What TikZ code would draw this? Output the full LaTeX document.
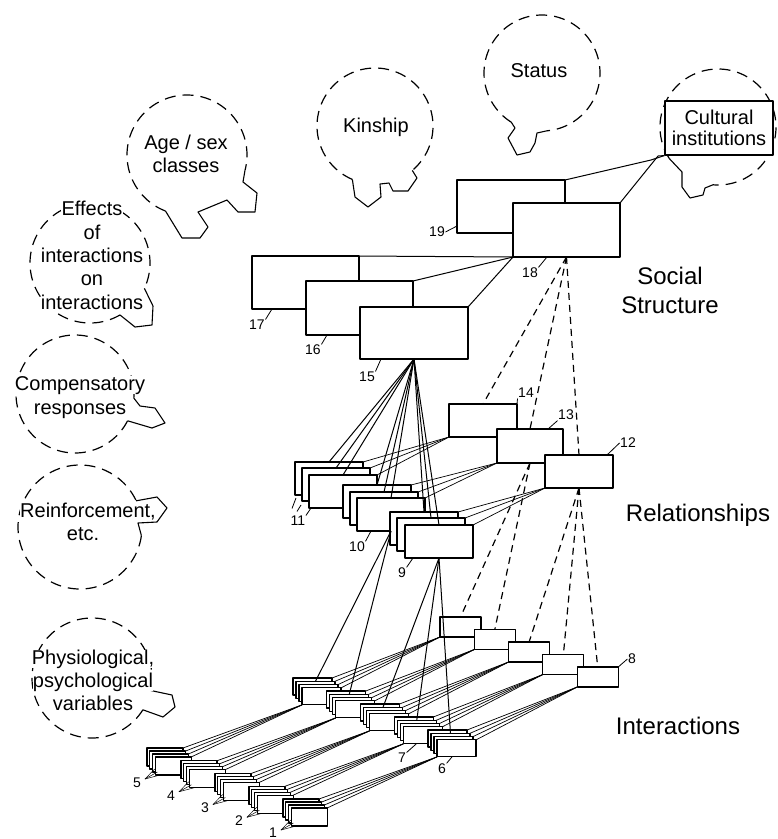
\documentclass[tikz,border=0pt]{standalone}
\usepackage{fontspec}
\setmainfont{Liberation Sans}
\usetikzlibrary{calc}
\newcommand\bubfont{\fontsize{20pt}{23pt}\selectfont}
\newcommand\culfont{\fontsize{20pt}{21pt}\selectfont}
\newcommand\bigfont{\fontsize{24pt}{29pt}\selectfont}
\newcommand\numfont{\fontsize{14pt}{16pt}\selectfont}
\begin{document}
\begin{tikzpicture}[x=1pt,y=-1pt,line join=round,
  bx/.style={draw,fill=white,inner sep=0pt,outer sep=0pt,anchor=north west,line width=1.1pt},
  ln/.style={line width=1pt},
  bund/.style={line width=0.7pt},
  dsh/.style={line width=1.2pt,dash pattern=on 7pt off 5pt},
  bubdash/.style={line width=1.2pt,dash pattern=on 11pt off 7pt},
  tail/.style={line width=1.1pt},
  bl/.style={font=\bubfont,fill=white,inner sep=0.3pt,text height=14pt,text depth=4pt},
  num/.style={font=\numfont,inner sep=0.5pt},
  lead/.style={line width=0.8pt},
  fanl/.style={line width=0.5pt}]
\useasboundingbox (0,0) rectangle (778,839);

% ---------------- bubbles ----------------
% Age / sex classes
\draw[bubdash] plot[domain=111:375,samples=150] ({187+60*cos(\x)},{155+60*sin(\x)});
\draw[tail] ({187+60*cos(15)},{155+60*sin(15)}) -- (243,182) -- (257,193) -- (255,212) -- (238,212) -- (227,200) -- (198,212) -- (208,227) -- (200,238) -- (182,238) -- ({187+60*cos(111)},{155+60*sin(111)});
\node[bl] (tAge1) at (186,144) {Age / sex};
\node[bl] (tAge2) at (186,167) {classes};
% Kinship
\draw[bubdash] plot[domain=113:410,samples=150] ({375+58*cos(\x)},{126+58*sin(\x)});
\draw[tail] ({375+58*cos(50)},{126+58*sin(50)}) -- (417,178) -- (408,191) -- (393,191) -- (389,183) -- (380,184) -- (381,197) -- (368,207) -- (355,197) -- ({375+58*cos(113)},{126+58*sin(113)});
\node[bl] (tKin) at (376,127) {Kinship};
% Status
\draw[bubdash] plot[domain=122:445,samples=150] ({542+58*cos(\x)},{73+58*sin(\x)});
\draw[tail] ({542+58*cos(85)},{73+58*sin(85)}) -- (537,133) -- (535,143) -- (530,152) -- (517,155) -- (508,138) -- (515,128) -- ({542+58*cos(122)},{73+58*sin(122)});
\node[bl] (tSta) at (539,72) {Status};
% Cultural institutions
\draw[bubdash] plot[domain=147:455,samples=150] ({718+58*cos(\x)},{127+58*sin(\x)});
\draw[tail] ({718+58*cos(95)},{127+58*sin(95)}) -- (705,188) -- (703,195) -- (690,198) -- (682,187) -- (682,172) -- ({718+58*cos(147)},{127+58*sin(147)});
% Effects of interactions on interactions
\draw[bubdash] plot[domain=60:385,samples=150] ({90+60*cos(\x)},{263+60*sin(\x)});
\draw[tail] ({90+60*cos(25)},{263+60*sin(25)}) -- (153,306) -- (152,325) -- (135,327) -- ({90+60*cos(60)},{263+60*sin(60)});
\node[bl] (tEff1) at (92,210) {Effects};
\node[bl] (tEff2) at (92,234) {of};
\node[bl] (tEff3) at (92,257) {interactions};
\node[bl] (tEff4) at (92,280) {on};
\node[bl] (tEff5) at (92,304) {interactions};
% Compensatory responses
\draw[bubdash] plot[domain=27:364,samples=150] ({75+59*cos(\x)},{394+59*sin(\x)});
\draw[tail] ({75+59*cos(4)},{394+59*sin(4)}) -- (140,406) -- (155,408) -- (165,423) -- (152,428) -- ({75+59*cos(27)},{394+59*sin(27)});
\node[bl] (tCom1) at (80,385) {Compensatory};
\node[bl] (tCom2) at (80,409) {responses};
% Reinforcement, etc.
\draw[bubdash] plot[domain=8:335,samples=150] ({80+62*cos(\x)},{527+62*sin(\x)});
\draw[tail] ({80+62*cos(335)},{527+62*sin(335)}) -- (157,497) -- (167,508) -- (157,522) -- (138,523) -- ({80+62*cos(8)},{527+62*sin(8)});
\node[bl] (tRei1) at (88,512) {Reinforcement,};
\node[bl] (tRei2) at (83,535) {etc.};
% Physiological, psychological variables
\draw[bubdash] plot[domain=32:372,samples=150] ({92+60*cos(\x)},{678+60*sin(\x)});
\draw[tail] ({92+60*cos(12)},{678+60*sin(12)}) -- (172,695) -- (175,707) -- (163,717) -- ({92+60*cos(32)},{678+60*sin(32)});
\node[bl] (tPhy1) at (93,659) {Physiological,};
\node[bl] (tPhy2) at (93,682) {psychological};
\node[bl] (tPhy3) at (93,705) {variables};

% ---------------- social structure ----------------
\node[bx,minimum width=108pt,minimum height=53pt] (B19) at (457,180) {};
\node[bx,minimum width=107pt,minimum height=54pt] (B18) at (513,203) {};
\node[draw,fill=white,line width=1.1pt,inner sep=0pt,minimum width=108pt,minimum height=54pt,font=\culfont,align=center] (Cult) at (719,128) {Cultural\\institutions};
\coordinate (cj1) at (651,160);
\coordinate (cj2) at (658,156);
\draw[ln] (B19.north east) -- (cj1) -- (Cult.south west);
\draw[ln] (B18.north east) -- (cj2) -- (Cult.south west);
\node[bx,minimum width=107pt,minimum height=53pt] (B17) at (252,256) {};
\node[bx,minimum width=107pt,minimum height=54pt] (B16) at (306,281) {};
\node[bx,minimum width=108pt,minimum height=52pt] (B15) at (360,307) {};
\draw[ln] (B17.north east) -- (B18.south west);
\draw[ln] (B16.north east) -- (B18.south west);
\draw[ln] (B15.north east) -- (B18.south west);

% ---------------- relationships ----------------
\node[bx,minimum width=68pt,minimum height=33pt] (R14) at (449,404) {};
\node[bx,minimum width=66pt,minimum height=34pt] (R13) at (497,429) {};
\node[bx,minimum width=68pt,minimum height=33pt] (R12) at (545,455) {};
\foreach \i/\dx/\dy in {0/0/0,1/7/6,2/14/13}{
  \node[bx,minimum width=68pt,minimum height=33pt] (s11-\i) at (295+\dx,462+\dy) {};}
\foreach \i/\dx/\dy in {0/0/0,1/7/7,2/14/13}{
  \node[bx,minimum width=68pt,minimum height=33pt] (s10-\i) at (343+\dx,485+\dy) {};}
\foreach \i/\dx/\dy in {0/0/0,1/7/6,2/15/13}{
  \node[bx,minimum width=68pt,minimum height=33pt] (s9-\i) at (390+\dx,512+\dy) {};}
\foreach \s in {s11,s10,s9}{\foreach \i in {0,1,2}{\draw[ln] (B15.south) -- (\s-\i.north);}}
\foreach \i in {0,1,2}{
  \draw[bund] (R14.south west) -- (s11-\i.north east);
  \draw[bund] (R13.south west) -- (s10-\i.north east);
  \draw[bund] (R12.south west) -- (s9-\i.north east);}
\draw[dsh] (B18.south) -- (R14.north);
\draw[dsh] (B18.south) -- (R13.north);
\draw[dsh] (B18.south) -- (R12.north);

% ---------------- interactions ----------------
\foreach \k in {0,...,4}{
  \node[bx,minimum width=41pt,minimum height=20pt] (r8-\k) at ({440+34.3*\k},{617+12.5*\k}) {};}
\foreach \k in {0,...,4}{\foreach \i in {0,...,3}{
  \node[bx,minimum width=39pt,minimum height=17pt] (m\k-\i) at ({293+33.75*\k+3*\i},{678+13*\k+3.3*\i}) {};}}
\foreach \k in {0,...,4}{\foreach \i in {0,...,3}{
  \node[bx,minimum width=36pt,minimum height=18pt] (f\k-\i) at ({147+34*\k+2.7*\i},{748+12.75*\k+3*\i}) {};}}
\foreach \k in {0,...,4}{\foreach \i in {0,...,3}{
  \draw[bund] (r8-\k.south west) -- (m\k-\i.north east);
  \draw[bund] (m\k-3.south west) -- (f\k-\i.north east);}}
\draw[dsh] (R13.south) -- (r8-0.north);
\draw[dsh] (R13.south) -- (r8-1.north);
\draw[dsh] (R12.south) -- (r8-2.north);
\draw[dsh] (R12.south) -- (r8-3.north);
\draw[dsh] (R12.south) -- (r8-4.north);
\draw[ln] (s10-2.south) -- (m0-1.north);
\draw[ln] (s10-2.south) -- (m1-1.north);
\draw[ln] (s9-2.south) -- (m2-1.north);
\draw[ln] (s9-2.south) -- (m3-1.north);
\draw[ln] (s9-2.south) -- (m4-1.north);

% ---------------- level labels ----------------
\node[font=\bigfont,align=center] (SS) at (670,290) {Social\\Structure};
\node[font=\bigfont] (Rel) at (698,515) {Relationships};
\node[font=\bigfont] (Int) at (678,726) {Interactions};

% ---------------- number labels ----------------
\node[num] (l19) at (437,232) {19};
\draw[lead] (l19.east) -- ($(B19.south west)+(0,-7)$);
\node[num] (l18) at (530,273) {18};
\draw[lead] (l18.north east) -- ($(B18.south west)+(34,0)$);
\node[num] (l17) at (257,325) {17};
\draw[lead] (l17.north east) -- ($(B17.south west)+(20,0)$);
\node[num] (l16) at (313,350) {16};
\draw[lead] (l16.north east) -- ($(B16.south west)+(21,0)$);
\node[num] (l15) at (367,377) {15};
\draw[lead] (l15.north east) -- ($(B15.south west)+(21,0)$);
\node[num] (l14) at (526,393) {14};
\draw[lead] (R14.north east) -- (l14.south west);
\node[num] (l13) at (566,415) {13};
\draw[lead] ($(R13.north east)+(-15,0)$) -- (l13.south west);
\node[num] (l12) at (628,443) {12};
\draw[lead] ($(R12.north east)+(-6,0)$) -- (l12.west);
\node[num] (l11) at (298,521) {11};
\draw[lead] (l11.north east) -- ($(s11-2.south west)+(2,0)$);
\draw[lead] ($(l11.north)+(-1,-4)$) -- ($(s11-1.south west)+(-1,4)$);
\draw[lead] ($(l11.north)+(-6,-7)$) -- ($(s11-0.south west)+(1,3)$);
\node[num] (l10) at (357,547) {10};
\draw[lead] (l10.north east) -- ($(s10-2.south west)+(14,0)$);
\node[num] (l9) at (402,573) {9};
\draw[lead] (l9.north east) -- ($(s9-2.south west)+(8,0)$);
\node[num] (l8) at (632,659) {8};
\draw[lead] (r8-4.north east) -- (l8.west);
\node[num] (l7) at (402,758) {7};
\draw[lead] (l7.north east) -- ($(m3-3.south west)+(13,0)$);
\node[num] (l6) at (442,769) {6};
\draw[lead] (l6.north east) -- ($(m4-3.south west)+(15,0)$);
\foreach \k/\t in {0/5,1/4,2/3,3/2,4/1}{
  \node[num] (lf\t) at ({137+34*\k},{783+12.4*\k}) {\t};
  \coordinate (fan\t) at ({145+34*\k},{779+12.75*\k});
  \foreach \i in {1,2,3}{\draw[fanl] (fan\t) -- ($(f\k-\i.south west)+(5,0)$);}}
\end{tikzpicture}
\end{document}
